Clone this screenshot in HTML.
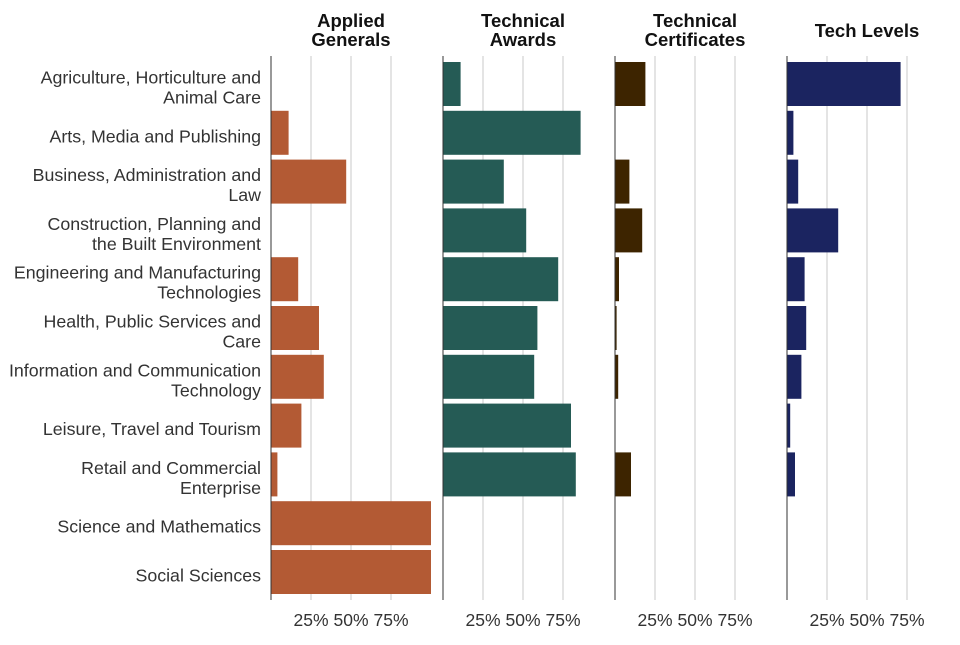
<!DOCTYPE html>
<html><head><meta charset="utf-8"><style>
body{margin:0;background:#fff;width:960px;height:640px;overflow:hidden;font-family:"Liberation Sans",sans-serif}
</style></head><body>
<svg id="c" width="960" height="640" xmlns="http://www.w3.org/2000/svg"></svg>
<script>
const categories=[["Agriculture, Horticulture and","Animal Care"],["Arts, Media and Publishing"],["Business, Administration and","Law"],["Construction, Planning and","the Built Environment"],["Engineering and Manufacturing","Technologies"],["Health, Public Services and","Care"],["Information and Communication","Technology"],["Leisure, Travel and Tourism"],["Retail and Commercial","Enterprise"],["Science and Mathematics"],["Social Sciences"]];
const panelTitles=[["Applied","Generals"],["Technical","Awards"],["Technical","Certificates"],["Tech Levels"]];
const appliedGenerals=[0,11,47,0,17,30,33,19,4,100,100];
const technicalAwards=[11,86,38,52,72,59,57,80,83,0,0];
const technicalCertificates=[19,0,9,17,2.5,1,2,0,10,0,0];
const techLevels=[71,4,7,32,11,12,9,2,5,0,0];
const tickValues=[25,50,75];
const tickLabels=["25%","50%","75%"];
const series=[appliedGenerals,technicalAwards,technicalCertificates,techLevels];
const colors=["#b35a34","#255b55","#3d2400","#1b2460"];
const names=["applied-generals","technical-awards","technical-certificates","tech-levels"];
const svg=document.getElementById('c');const NS="http://www.w3.org/2000/svg";
function mk(t,a,p){const e=document.createElementNS(NS,t);for(const k in a)e.setAttribute(k,a[k]);(p||svg).appendChild(e);return e;}
const panelX=[271,443,615,787],pxPer=1.6,plotTop=56,plotBottom=600,rowTop=62,pitch=48.8,barH=44;
const xs=(p,v)=>panelX[p]+v*pxPer;
const ys=i=>rowTop+i*pitch;
categories.forEach((c,i)=>{const cy=ys(i)+barH/2;
 const t=mk('text',{x:261,'text-anchor':'end','font-size':17.8,fill:'#333'});
 
 
 c.forEach((l,j)=>{const ts=mk('tspan',{x:261,y:cy+9.5+(j-(c.length-1)/2)*20},t);ts.textContent=l;});});
series.forEach((s,p)=>{const g=mk('g',{});
 
 
 tickValues.forEach((v,k)=>{const l=mk('line',{x1:xs(p,v),x2:xs(p,v),y1:plotTop,y2:plotBottom,stroke:'#e4e4e4','stroke-width':2},g);
  
  
  const t=mk('text',{x:xs(p,v),y:626,'text-anchor':'middle','font-size':17.5,fill:'#333'},g);t.textContent=tickLabels[k];
  
  });
 s.forEach((v,i)=>{if(v<=0)return;const r=mk('rect',{x:panelX[p],y:ys(i),width:v*pxPer,height:barH,fill:colors[p]},g);
  
  });
 const a=mk('line',{x1:panelX[p],x2:panelX[p],y1:plotTop,y2:plotBottom,stroke:'#333','stroke-width':1},g);
 
 
 const tt=panelTitles[p];const t=mk('text',{'text-anchor':'middle','font-size':18.5,'font-weight':'bold',fill:'#111'},g);
 
 
 const cx=xs(p,50);
 tt.forEach((l,j)=>{const ts=mk('tspan',{x:cx,y:tt.length==1?37:27+j*19},t);ts.textContent=l;});
});
</script>
</body></html>
